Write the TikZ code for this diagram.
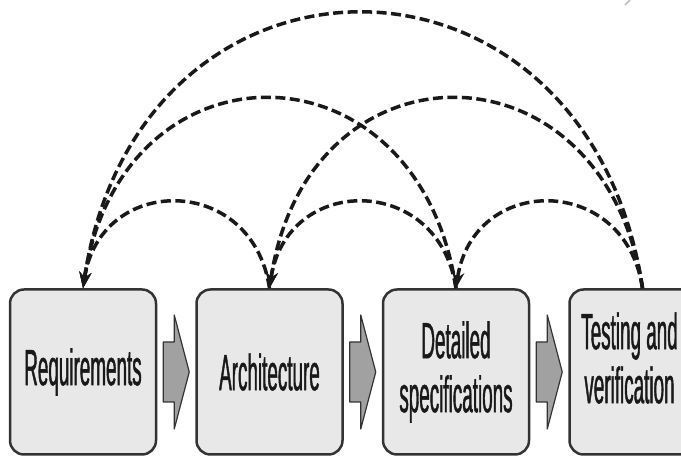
\documentclass[tikz,border=0pt]{standalone}
\usepackage{fontspec}
\setmainfont{Liberation Sans}
\newfontfamily\narrowfont[FakeStretch=0.37,FakeBold=0.8]{Liberation Sans}
\usetikzlibrary{arrows.meta,calc,positioning}
\begin{document}
\begin{tikzpicture}[x=1pt,y=1pt,line join=round,>={Stealth[length=16pt,width=12pt]},
  stage/.style={draw=black!80,line width=2.5pt,fill=black!9,rounded corners=14pt,
    minimum width=146pt,minimum height=165pt,inner sep=0pt,align=center,text=black!90,
    font=\narrowfont\fontsize{51}{54}\selectfont},
  back/.style={->,line width=3.5pt,dash pattern=on 10pt off 4.5pt,black!90},
  blockarrow/.style={draw=black!80,line width=1.2pt,fill=black!37}]
\useasboundingbox (0,0) rectangle (681,457);
\clip (0,0) rectangle (681,457);
% the four stages
\node[stage] (req) at (83,85) {Requirements};
\node[stage,right=38pt of req] (arch) {Architecture};
\node[stage,right=38pt of arch] (det) {Detailed\\specifications};
\node[stage,right=38pt of det] (test) {};
\node[stage,draw=none,fill=none,minimum size=0pt] (testtext) at ($(test)+(-13,14)$) {Testing and\\verification};
% block arrows between the stages
\foreach \a/\b in {req/arch,arch/det,det/test}{
  \coordinate (m) at ($(\a.east)!0.5!(\b.west)$);
  \draw[blockarrow] ($(m)+(-13,30)$) -- ++(11,0) -- ++(0,27) -- ++(15,-57)
    -- ++(-15,-57) -- ++(0,27) -- ++(-11,0) -- cycle;
}
% feedback loops
\draw[back] (arch.north) .. controls +(-17,115) and +(17,115) .. (req.north);
\draw[back] (det.north) .. controls +(-17,115) and +(17,115) .. (arch.north);
\draw[back] (test.north) .. controls +(-17,115) and +(17,115) .. (det.north);
\draw[back] (det.north) .. controls +(-38,253) and +(38,253) .. (req.north);
\draw[back] (test.north) .. controls +(-38,253) and +(38,253) .. (arch.north);
\draw[back] (test.north) .. controls +(-55,367) and +(55,367) .. (req.north);
\draw[black!25,line width=1.5pt] (625,452) -- (630,457);
\end{tikzpicture}
\end{document}
